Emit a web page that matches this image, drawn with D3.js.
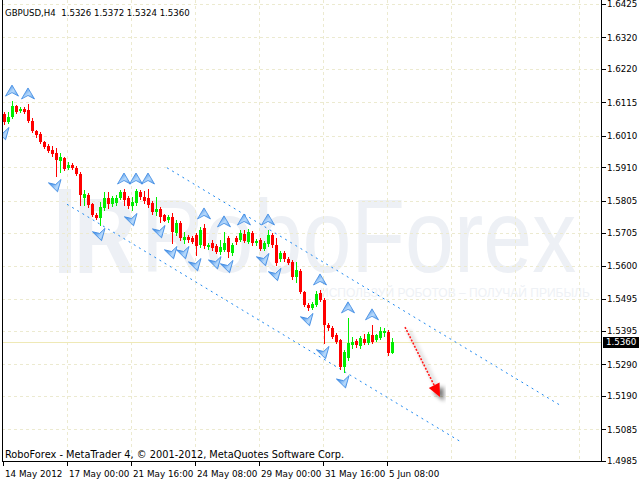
<!DOCTYPE html>
<html><head><meta charset="utf-8">
<script src="https://cdn.jsdelivr.net/npm/d3@7"></script>
<style>body{margin:0;background:#fff}svg{display:block}</style>
</head><body><script>
const symbolTitle = "GBPUSD,H4";
const barOpen = [1.6078,1.6053,1.6069,1.6104,1.6088,1.6094,1.6091,1.6056,1.6025,1.6015,
1.5990,1.5978,1.5965,1.5955,1.5930,1.5940,1.5908,1.5918,1.5908,1.5889,
1.5814,1.5823,1.5795,1.5760,1.5751,1.5782,1.5814,1.5795,1.5798,1.5814,
1.5833,1.5814,1.5789,1.5798,1.5833,1.5817,1.5814,1.5798,1.5770,1.5779,
1.5760,1.5744,1.5754,1.5703,1.5735,1.5681,1.5691,1.5688,1.5697,1.5666,
1.5719,1.5659,1.5672,1.5662,1.5644,1.5650,1.5688,1.5640,1.5688,1.5681,
1.5700,1.5675,1.5703,1.5672,1.5681,1.5653,1.5669,1.5697,1.5666,1.5622,
1.5640,1.5622,1.5612,1.5565,1.5584,1.5518,1.5477,1.5467,1.5477,1.5514,
1.5492,1.5414,1.5404,1.5382,1.5366,1.5281,1.5310,1.5351,1.5363,1.5347,
1.5369,1.5357,1.5382,1.5366,1.5373,1.5388,1.5391,1.5326];
const barHigh = [1.6085,1.6085,1.6119,1.6107,1.6100,1.6100,1.6110,1.6066,1.6028,1.6022,
1.5993,1.5984,1.5978,1.5971,1.5955,1.5943,1.5927,1.5924,1.5915,1.5896,
1.5839,1.5830,1.5798,1.5766,1.5801,1.5833,1.5833,1.5820,1.5823,1.5839,
1.5842,1.5820,1.5817,1.5842,1.5839,1.5836,1.5842,1.5804,1.5817,1.5785,
1.5763,1.5760,1.5766,1.5744,1.5741,1.5707,1.5697,1.5694,1.5703,1.5722,
1.5732,1.5672,1.5681,1.5669,1.5681,1.5707,1.5694,1.5672,1.5694,1.5713,
1.5713,1.5716,1.5710,1.5685,1.5688,1.5678,1.5713,1.5703,1.5688,1.5647,
1.5647,1.5628,1.5618,1.5612,1.5590,1.5521,1.5483,1.5486,1.5521,1.5524,
1.5499,1.5420,1.5410,1.5388,1.5369,1.5335,1.5436,1.5376,1.5369,1.5379,
1.5385,1.5391,1.5414,1.5385,1.5407,1.5404,1.5398,1.5372];
const barLow = [1.6047,1.6050,1.6066,1.6082,1.6085,1.6082,1.6053,1.6022,1.6006,1.5987,
1.5971,1.5959,1.5946,1.5883,1.5896,1.5902,1.5905,1.5905,1.5886,1.5792,
1.5792,1.5785,1.5757,1.5748,1.5729,1.5776,1.5782,1.5789,1.5792,1.5811,
1.5792,1.5782,1.5776,1.5792,1.5811,1.5798,1.5785,1.5763,1.5760,1.5738,
1.5741,1.5738,1.5672,1.5697,1.5681,1.5672,1.5675,1.5672,1.5634,1.5659,
1.5656,1.5653,1.5650,1.5640,1.5637,1.5647,1.5628,1.5634,1.5669,1.5678,
1.5675,1.5672,1.5666,1.5666,1.5650,1.5650,1.5662,1.5659,1.5603,1.5615,
1.5615,1.5606,1.5558,1.5549,1.5514,1.5473,1.5461,1.5464,1.5473,1.5489,
1.5357,1.5398,1.5373,1.5357,1.5275,1.5265,1.5303,1.5341,1.5344,1.5341,
1.5354,1.5354,1.5357,1.5363,1.5369,1.5379,1.5319,1.5324];
const barClose = [1.6053,1.6069,1.6104,1.6085,1.6094,1.6085,1.6056,1.6025,1.6012,1.5990,
1.5974,1.5962,1.5952,1.5933,1.5943,1.5905,1.5918,1.5908,1.5889,1.5823,
1.5826,1.5792,1.5760,1.5751,1.5785,1.5814,1.5795,1.5814,1.5814,1.5833,
1.5807,1.5789,1.5801,1.5836,1.5817,1.5804,1.5792,1.5770,1.5779,1.5754,
1.5741,1.5754,1.5707,1.5735,1.5688,1.5691,1.5681,1.5675,1.5662,1.5713,
1.5662,1.5666,1.5656,1.5644,1.5659,1.5672,1.5644,1.5666,1.5675,1.5703,
1.5678,1.5707,1.5672,1.5678,1.5653,1.5672,1.5697,1.5666,1.5609,1.5640,
1.5622,1.5609,1.5565,1.5587,1.5518,1.5477,1.5467,1.5480,1.5511,1.5492,
1.5414,1.5404,1.5376,1.5360,1.5281,1.5328,1.5357,1.5360,1.5351,1.5373,
1.5357,1.5385,1.5360,1.5382,1.5395,1.5395,1.5325,1.5360];
const priceTicks = [1.6425,1.6320,1.6220,1.6115,1.6010,1.5910,1.5805,1.5705,1.5600,1.5495,1.5395,1.5290,1.5190,1.5085,1.4985];
const timeLabels = ["14 May 2012","17 May 00:00","21 May 16:00","24 May 08:00","29 May 00:00","31 May 16:00","5 Jun 08:00"];
const timeLabelBars = [0,16,32,48,64,80,96];
const gridBars = [16,32,48,64,80,96,112,128,144];
const fractalUpBars = [2,6,30,33,36,50,55,60,66,79,86,92];
const fractalDownBars = [0,13,24,32,39,42,45,48,53,56,65,68,76,80,85];
const channelUpper = [[40.75,1.5909],[139,1.5161]];
const channelLower = [[15.75,1.5794],[114,1.5047]];
const forecastArrow = [[100.25,1.5407],[109,1.5187]];
const currentPrice = 1.5360;
const copyright = "RoboForex - MetaTrader 4, \u00a9 2001-2012, MetaQuotes Software Corp.";
const watermark = "RoboForex";
const watermarkSub = "ИСПОЛЬЗУЙ РОБОТОВ – ПОЛУЧАЙ ПРИБЫЛЬ";

const W = 640, H = 480, L = 2, R = 601, T = 0, B = 461;
const n = barOpen.length;
const x = d3.scaleLinear().domain([0, 97]).range([4, 392]);
const y = d3.scaleLinear().domain([1.4985, 1.6425]).range([461, 4]);
const FONT = "'DejaVu Sans', Tahoma, sans-serif";
const WMFONT = "'Liberation Sans', Arial, sans-serif";

const svg = d3.select("body").append("svg").attr("width", W).attr("height", H);
const defs = svg.append("defs");
defs.append("clipPath").attr("id", "plot").append("rect").attr("x", L + 1).attr("y", T).attr("width", R - L - 1).attr("height", B - T);
const g1 = defs.append("linearGradient").attr("id", "arrowGrad").attr("x1", 0).attr("y1", 0).attr("x2", 1).attr("y2", 1);
g1.append("stop").attr("offset", "0%").attr("stop-color", "#2a7ee0");
g1.append("stop").attr("offset", "55%").attr("stop-color", "#b8dafc");
g1.append("stop").attr("offset", "100%").attr("stop-color", "#5c9fe8");
const f = defs.append("filter").attr("id", "shadow").attr("x", "-50%").attr("y", "-50%").attr("width", "200%").attr("height", "200%");
f.append("feGaussianBlur").attr("in", "SourceAlpha").attr("stdDeviation", 2.2).attr("result", "b");
f.append("feOffset").attr("in", "b").attr("dx", 4).attr("dy", 4).attr("result", "o");
f.append("feComponentTransfer").attr("in", "o").attr("result", "s").append("feFuncA").attr("type", "linear").attr("slope", 0.55);
const fm = f.append("feMerge"); fm.append("feMergeNode").attr("in", "s"); fm.append("feMergeNode").attr("in", "SourceGraphic");

svg.append("rect").attr("width", W).attr("height", H).attr("fill", "#fff");

// watermark (logo + name + slogan)
const wm = svg.append("g");
wm.append("rect").attr("x", 59).attr("y", 189).attr("width", 12).attr("height", 84).attr("fill", "#edf0f5");
wm.append("g").attr("transform", "translate(74,273) scale(1,1.25)")
  .append("text").attr("x", 0).attr("y", 0).attr("font-family", WMFONT).attr("font-weight", "bold")
  .attr("font-size", 86).attr("fill", "#edf0f5").text("R");
wm.append("g").attr("transform", "translate(141,272) scale(1,1.17)")
  .append("text").attr("x", 0).attr("y", 0).attr("font-family", WMFONT)
  .attr("font-size", 88).attr("fill", "#edf0f5").text(watermark);
wm.append("text").attr("x", 320).attr("y", 297).attr("font-family", WMFONT)
  .attr("font-size", 12).attr("fill", "#eef1f5").text(watermarkSub);

// grid
const grid = svg.append("g").attr("stroke", "#ecead0").attr("stroke-dasharray", "3,3").attr("shape-rendering", "crispEdges");
grid.selectAll("line.h").data(priceTicks).join("line").attr("class", "h")
  .attr("x1", L).attr("x2", R).attr("y1", d => Math.round(y(d)) + 0.5).attr("y2", d => Math.round(y(d)) + 0.5);
grid.selectAll("line.v").data(gridBars).join("line").attr("class", "v")
  .attr("x1", d => Math.round(x(d)) - 0.5).attr("x2", d => Math.round(x(d)) - 0.5).attr("y1", T).attr("y2", B);

// current price line
svg.append("line").attr("x1", L).attr("x2", R).attr("y1", Math.round(y(currentPrice)) + 0.5).attr("y2", Math.round(y(currentPrice)) + 0.5)
  .attr("stroke", "#efe9b6").attr("shape-rendering", "crispEdges");

const plot = svg.append("g").attr("clip-path", "url(#plot)");

// channel lines
[channelUpper, channelLower].forEach(c => {
  plot.append("line").attr("x1", x(c[0][0])).attr("y1", y(c[0][1])).attr("x2", x(c[1][0])).attr("y2", y(c[1][1]))
    .attr("stroke", "#1e88f0").attr("stroke-width", 1).attr("stroke-dasharray", "2,4");
});

// candles
const bars = d3.range(n).map(i => ({ i, o: barOpen[i], h: barHigh[i], l: barLow[i], c: barClose[i] }));
const col = d => d.c >= d.o ? "#00ee00" : "#ff0000";
plot.selectAll("line.wick").data(bars).join("line").attr("class", "wick")
  .attr("x1", d => Math.round(x(d.i)) + 0.5).attr("x2", d => Math.round(x(d.i)) + 0.5)
  .attr("y1", d => Math.round(y(d.h))).attr("y2", d => Math.round(y(d.l)) + 1)
  .attr("stroke", col).attr("shape-rendering", "crispEdges");
plot.selectAll("rect.body").data(bars).join("rect").attr("class", "body")
  .attr("x", d => Math.round(x(d.i)) - 1).attr("width", 3)
  .attr("y", d => Math.round(Math.min(y(d.o), y(d.c))))
  .attr("height", d => Math.max(1, Math.round(Math.abs(y(d.o) - y(d.c)))))
  .attr("fill", col).attr("shape-rendering", "crispEdges");

// fractal arrows
const upPath = "M0,-6 L6.5,5 L0,1.5 L-6.5,5 Z";
const downPath = "M-6.5,-5 L0,-1.5 L6.5,-5 L0,6 Z";
plot.selectAll("path.fu").data(fractalUpBars).join("path").attr("class", "fu")
  .attr("d", upPath).attr("transform", d => `translate(${x(d)},${y(barHigh[d]) - 10})`)
  .attr("fill", "url(#arrowGrad)").attr("stroke", "#3a88e2").attr("stroke-width", 0.8);
plot.selectAll("path.fd").data(fractalDownBars).join("path").attr("class", "fd")
  .attr("d", downPath).attr("transform", d => `translate(${x(d)},${y(barLow[d]) + 10}) rotate(-15)`)
  .attr("fill", "url(#arrowGrad)").attr("stroke", "#3a88e2").attr("stroke-width", 0.8);

// forecast arrow
const ax1 = x(forecastArrow[0][0]), ay1 = y(forecastArrow[0][1]);
const ax2 = x(forecastArrow[1][0]), ay2 = y(forecastArrow[1][1]);
const ang = Math.atan2(ay2 - ay1, ax2 - ax1);
const hl = 13, hw = 6;
const bx = ax2 - hl * Math.cos(ang), by = ay2 - hl * Math.sin(ang);
plot.append("line").attr("x1", ax1).attr("y1", ay1).attr("x2", bx).attr("y2", by)
  .attr("stroke", "#ff1a1a").attr("stroke-width", 1.6).attr("stroke-dasharray", "2,1.5").attr("filter", "url(#shadow)");
plot.append("path").attr("d", `M${ax2},${ay2} L${bx + hw * Math.sin(ang)},${by - hw * Math.cos(ang)} L${bx - hw * Math.sin(ang)},${by + hw * Math.cos(ang)} Z`)
  .attr("fill", "#ff0000").attr("filter", "url(#shadow)");

// frame
const frame = svg.append("g").attr("stroke", "#000").attr("shape-rendering", "crispEdges");
frame.append("line").attr("x1", L + 0.5).attr("x2", L + 0.5).attr("y1", T).attr("y2", B + 1);
frame.append("line").attr("x1", R + 0.5).attr("x2", R + 0.5).attr("y1", T).attr("y2", B + 1);
frame.append("line").attr("x1", L).attr("x2", R + 1).attr("y1", B + 0.5).attr("y2", B + 0.5);

// right axis
const yAxis = d3.axisRight(y).tickValues(priceTicks).tickSize(4).tickSizeOuter(0).tickPadding(1).tickFormat(d3.format(".4f"));
const ya = svg.append("g").attr("transform", `translate(${R + 1},0)`).call(yAxis);
ya.select(".domain").remove();
ya.selectAll(".tick line").attr("stroke", "#000").attr("shape-rendering", "crispEdges");
ya.selectAll(".tick text").attr("font-family", FONT).attr("font-size", 8.7).attr("fill", "#000");

// bottom axis
const xt = d3.scaleLinear().domain([0, 97]).range([3, 391]);
const xAxis = d3.axisBottom(xt).tickValues(timeLabelBars).tickSize(5).tickSizeOuter(0).tickPadding(4.5).tickFormat((d, i) => timeLabels[i]);
const xa = svg.append("g").attr("transform", `translate(0,${B})`).call(xAxis);
xa.select(".domain").remove();
xa.selectAll(".tick line").attr("stroke", "#000").attr("shape-rendering", "crispEdges");
xa.selectAll(".tick text").attr("font-family", FONT).attr("font-size", 8.8).attr("fill", "#000").attr("text-anchor", "start").attr("dx", 1.5);

// current price label
const cy = y(currentPrice);
svg.append("rect").attr("x", R + 2).attr("y", Math.round(cy) - 5).attr("width", 36).attr("height", 11).attr("fill", "#000");
svg.append("text").attr("x", R + 5).attr("y", cy + 3.3).attr("font-family", FONT).attr("font-size", 8.7).attr("fill", "#fff").text(d3.format(".4f")(currentPrice));

// title and copyright
const last = n - 1;
svg.append("text").attr("x", 5).attr("y", 16).attr("font-family", FONT).attr("font-size", 8.6).attr("fill", "#000")
  .style("white-space", "pre")
  .text(`${symbolTitle}  ${[barOpen[last], barHigh[last], barLow[last], barClose[last]].map(d3.format(".4f")).join(" ")}`);
svg.append("text").attr("x", 5).attr("y", 458).attr("font-family", FONT).attr("font-size", 9.8).attr("fill", "#000").text(copyright);
</script></body></html>
